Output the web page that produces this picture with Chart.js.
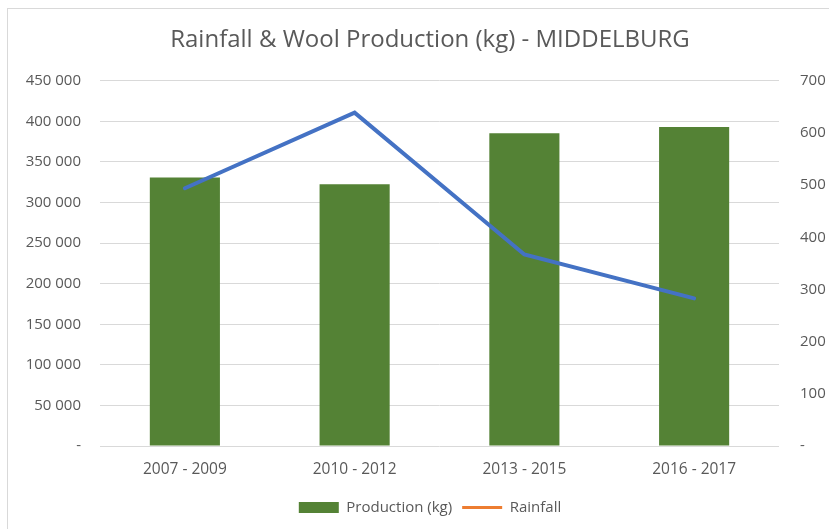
<!DOCTYPE html>
<html>
<head>
<meta charset="utf-8">
<script src="https://cdn.jsdelivr.net/npm/chart.js@4.4.1/dist/chart.umd.min.js"></script>
<style>
  html, body { margin: 0; padding: 0; background: #fff; overflow: hidden; }
  #wrap { position: relative; width: 829px; height: 529px; overflow: hidden; }
  #frame { position: absolute; left: 7px; top: 8px; width: 900px; height: 600px; border: 1px solid #d9d9d9; }
  #box { position: absolute; left: 0; top: 0; width: 860px; height: 529px; }
</style>
</head>
<body>
<div id="wrap">
  <div id="frame"></div>
  <div id="box"><canvas id="chart"></canvas></div>
</div>
<script>
// Data
const periods = ['2007 - 2009', '2010 - 2012', '2013 - 2015', '2016 - 2017'];
const production = [331000, 322500, 385500, 393000];
const rainfall = [494, 639, 367, 283];

const textColor = '#595959';
const fontFamily = '"Open Sans", sans-serif';

function spaced(v) {
    if (v === 0) return '-';
    return v.toLocaleString('en-US').replace(/,/g, ' ');
}

const ctx = document.getElementById('chart').getContext('2d');
const chart = new Chart(ctx, {
    data: {
        labels: periods,
        datasets: [
            {
                type: 'bar',
                label: 'Production (kg)',
                data: production,
                backgroundColor: '#548235',
                yAxisID: 'y',
                order: 2,
                barPercentage: 0.413,
                categoryPercentage: 1
            },
            {
                type: 'line',
                label: 'Rainfall',
                data: rainfall,
                borderColor: '#4472c4',
                borderWidth: 4,
                borderCapStyle: 'round',
                pointRadius: 0,
                tension: 0,
                yAxisID: 'y1',
                order: 1
            }
        ]
    },
    options: {
        responsive: true,
        maintainAspectRatio: false,
        animation: false,
        layout: { padding: { left: 0, right: 0, top: 0, bottom: 4 } },
        plugins: {
            tooltip: { enabled: false },
            title: {
                display: true,
                text: 'Rainfall & Wool Production (kg) - MIDDELBURG',
                color: textColor,
                font: { family: fontFamily, size: 24, weight: 'normal' },
                padding: { top: 26, bottom: 26 }
            },
            legend: {
                position: 'bottom',
                labels: {
                    color: textColor,
                    font: { family: fontFamily, size: 15 },
                    usePointStyle: true,
                    pointStyleWidth: 40,
                    boxHeight: 11,
                    padding: 10,
                    generateLabels: function (c) {
                        const items = Chart.defaults.plugins.legend.labels.generateLabels(c);
                        items.sort((a, b) => a.datasetIndex - b.datasetIndex);
                        items.forEach(it => {
                            if (it.datasetIndex === 0) {
                                it.pointStyle = 'rect';
                                it.fillStyle = '#548235';
                                it.strokeStyle = '#548235';
                                it.lineWidth = 0;
                            } else {
                                it.pointStyle = 'line';
                                it.strokeStyle = '#ed7d31';
                                it.lineWidth = 3;
                            }
                        });
                        return items;
                    }
                }
            }
        },
        scales: {
            x: {
                grid: { display: false },
                border: { display: false },
                ticks: { color: textColor, font: { family: fontFamily, size: 15.5 }, padding: 6 },
                afterFit: s => { s.height = 44; }
            },
            y: {
                position: 'left',
                min: 0,
                max: 450000,
                grid: { color: '#d9d9d9', drawTicks: false },
                border: { display: false },
                ticks: {
                    stepSize: 50000,
                    color: textColor,
                    font: { family: fontFamily, size: 15 },
                    padding: 19,
                    callback: v => spaced(v)
                },
                afterFit: s => { s.width = 100; }
            },
            y1: {
                position: 'right',
                min: 0,
                max: 700,
                grid: { display: false, drawTicks: false },
                border: { display: false },
                ticks: {
                    stepSize: 100,
                    color: textColor,
                    font: { family: fontFamily, size: 15 },
                    padding: 21,
                    callback: v => spaced(v)
                },
                afterFit: s => { s.width = 81; }
            }
        }
    }
});
</script>
</body>
</html>
